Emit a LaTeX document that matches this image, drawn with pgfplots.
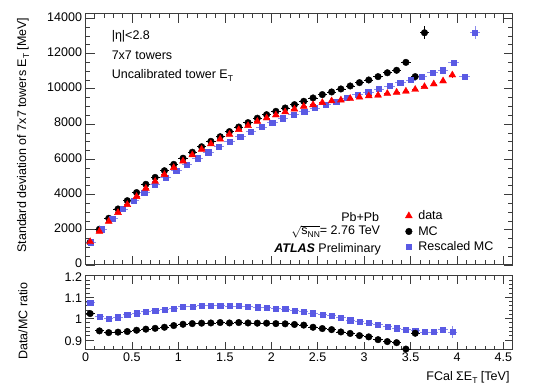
\documentclass[border=0pt]{standalone}
\usepackage{pgfplots}
\pgfplotsset{compat=1.18}
\usepackage{pgfplotstable}
\usepackage{fontspec}
\setmainfont{Liberation Sans}
\definecolor{rblue}{RGB}{90,90,228}
\definecolor{framegray}{RGB}{60,60,60}
\newcommand{\sub}[1]{\raisebox{-0.45ex}{\fontsize{8.5}{9}\selectfont #1}}

\pgfplotstableread{
x y ex ey
0.05 1290 0.05 40
0.15 2030 0.05 40
0.25 2650 0.05 40
0.35 3180 0.05 40
0.45 3650 0.05 40
0.55 4110 0.05 40
0.65 4580 0.05 40
0.75 4970 0.05 40
0.85 5350 0.05 40
0.95 5710 0.05 40
1.05 6060 0.05 40
1.15 6400 0.05 40
1.25 6710 0.05 40
1.35 7020 0.05 40
1.45 7280 0.05 40
1.55 7570 0.05 40
1.65 7830 0.05 40
1.75 8080 0.05 40
1.85 8330 0.05 40
1.95 8530 0.05 40
2.05 8720 0.05 40
2.15 8910 0.05 40
2.25 9100 0.05 40
2.35 9290 0.05 40
2.45 9480 0.05 40
2.55 9670 0.05 40
2.65 9820 0.05 40
2.75 9990 0.05 40
2.85 10160 0.05 40
2.95 10350 0.05 40
3.05 10500 0.05 40
3.15 10690 0.05 40
3.25 10910 0.05 50
3.35 11050 0.05 60
3.45 11500 0.05 80
3.55 10690 0.05 100
3.65 13180 0.05 380
}\mc

\pgfplotstableread{
x y ex ey
0.0575 1290 0.0575 40
0.1724 2030 0.0575 40
0.2873 2650 0.0575 40
0.4022 3180 0.0575 40
0.5171 3650 0.0575 40
0.6320 4110 0.0575 40
0.7469 4580 0.0575 40
0.8618 4970 0.0575 40
0.9767 5350 0.0575 40
1.0916 5710 0.0575 40
1.2065 6060 0.0575 40
1.3214 6400 0.0575 40
1.4363 6710 0.0575 40
1.5512 7020 0.0575 40
1.6661 7280 0.0575 40
1.7810 7570 0.0575 40
1.8959 7830 0.0575 40
2.0108 8080 0.0575 40
2.1257 8330 0.0575 40
2.2406 8530 0.0575 40
2.3555 8720 0.0575 40
2.4704 8910 0.0575 40
2.5853 9100 0.0575 40
2.7002 9290 0.0575 40
2.8151 9480 0.0575 40
2.9300 9670 0.0575 40
3.0449 9820 0.0575 40
3.1598 9990 0.0575 40
3.2747 10160 0.0575 40
3.3896 10350 0.0575 40
3.5045 10500 0.0575 40
3.6194 10690 0.0575 40
3.7343 10910 0.0575 50
3.8492 11050 0.0575 60
3.9641 11500 0.0575 80
4.0790 10690 0.0575 100
4.1939 13180 0.0575 380
}\rmc

\pgfplotstableread{
x y ex ey
0.05 1320 0.05 40
0.15 1912 0.05 40
0.25 2475 0.05 40
0.35 2976 0.05 40
0.45 3427 0.05 40
0.55 3884 0.05 40
0.65 4351 0.05 40
0.75 4741 0.05 40
0.85 5131 0.05 40
0.95 5522 0.05 40
1.05 5896 0.05 40
1.15 6246 0.05 40
1.25 6562 0.05 40
1.35 6873 0.05 40
1.45 7142 0.05 40
1.55 7411 0.05 40
1.65 7681 0.05 40
1.75 7910 0.05 40
1.85 8147 0.05 40
1.95 8342 0.05 40
2.05 8511 0.05 40
2.15 8687 0.05 40
2.25 8845 0.05 40
2.35 9002 0.05 40
2.45 9091 0.05 40
2.55 9216 0.05 40
2.65 9309 0.05 40
2.75 9361 0.05 40
2.85 9449 0.05 40
2.95 9522 0.05 40
3.05 9597 0.05 40
3.15 9632 0.05 40
3.25 9732 0.05 40
3.35 9801 0.05 40
3.45 9860 0.05 50
3.55 9960 0.05 50
3.65 10120 0.05 60
3.75 10270 0.05 70
3.85 10440 0.05 110
3.95 10780 0.05 280
}\data

\pgfplotstableread{
x y ex ey
0.05 1.023 0.05 0.003
0.15 0.942 0.05 0.003
0.25 0.934 0.05 0.003
0.35 0.936 0.05 0.003
0.45 0.939 0.05 0.003
0.55 0.945 0.05 0.003
0.65 0.950 0.05 0.003
0.75 0.954 0.05 0.003
0.85 0.959 0.05 0.003
0.95 0.967 0.05 0.003
1.05 0.973 0.05 0.003
1.15 0.976 0.05 0.003
1.25 0.978 0.05 0.003
1.35 0.979 0.05 0.003
1.45 0.981 0.05 0.003
1.55 0.979 0.05 0.003
1.65 0.981 0.05 0.003
1.75 0.979 0.05 0.003
1.85 0.978 0.05 0.003
1.95 0.978 0.05 0.003
2.05 0.976 0.05 0.003
2.15 0.975 0.05 0.003
2.25 0.972 0.05 0.003
2.35 0.969 0.05 0.003
2.45 0.959 0.05 0.003
2.55 0.953 0.05 0.003
2.65 0.948 0.05 0.003
2.75 0.937 0.05 0.003
2.85 0.930 0.05 0.003
2.95 0.920 0.05 0.003
3.05 0.914 0.05 0.003
3.15 0.901 0.05 0.003
3.25 0.892 0.05 0.003
3.35 0.887 0.05 0.003
3.45 0.857 0.05 0.004
3.55 0.931 0.05 0.006
}\rmcr

\pgfplotstableread{
x y ex ey
0.05 1.075 0.05 0.003
0.15 1.008 0.05 0.003
0.25 1.000 0.05 0.003
0.35 1.006 0.05 0.003
0.45 1.017 0.05 0.003
0.55 1.025 0.05 0.003
0.65 1.031 0.05 0.003
0.75 1.037 0.05 0.003
0.85 1.042 0.05 0.003
0.95 1.047 0.05 0.003
1.05 1.055 0.05 0.003
1.15 1.055 0.05 0.003
1.25 1.059 0.05 0.003
1.35 1.061 0.05 0.003
1.45 1.061 0.05 0.003
1.55 1.058 0.05 0.003
1.65 1.058 0.05 0.003
1.75 1.056 0.05 0.003
1.85 1.053 0.05 0.003
1.95 1.052 0.05 0.003
2.05 1.047 0.05 0.003
2.15 1.044 0.05 0.003
2.25 1.038 0.05 0.003
2.35 1.033 0.05 0.003
2.45 1.025 0.05 0.003
2.55 1.019 0.05 0.003
2.65 1.012 0.05 0.003
2.75 1.003 0.05 0.003
2.85 0.992 0.05 0.003
2.95 0.984 0.05 0.003
3.05 0.979 0.05 0.003
3.15 0.970 0.05 0.003
3.25 0.961 0.05 0.003
3.35 0.955 0.05 0.003
3.45 0.948 0.05 0.004
3.55 0.944 0.05 0.004
3.65 0.937 0.05 0.005
3.75 0.937 0.05 0.006
3.85 0.948 0.05 0.009
3.95 0.937 0.05 0.028
}\rrmcr

\begin{document}
\begin{tikzpicture}
\useasboundingbox (0pt,0pt) rectangle (540pt,388pt);
\pgfplotsset{
  every axis/.append style={
    font=\fontsize{12.5}{14}\selectfont,
    scale only axis,
    axis line style={framegray, line width=1pt},
    tick style={framegray, line width=0.6pt},
    tick align=inside,
    xtick pos=both, ytick pos=both,
    major tick length=9pt, minor tick length=4.5pt,
    /pgf/number format/assume math mode=true,
    /pgf/number format/1000 sep={},
    scaled ticks=false,
    clip=true,
  },
  ebx/.style={/pgfplots/error bars/.cd, x dir=both, x explicit, y dir=both, y explicit, error mark=none, error bar style={#1}, /pgfplots/.cd},
}
% top panel
\begin{axis}[
  at={(85.5pt,123pt)}, anchor=south west,
  width=427.2pt, height=251pt,
  xmin=0, xmax=4.6, ymin=0, ymax=14245,
  xtick={0,0.5,1,1.5,2,2.5,3,3.5,4,4.5}, minor x tick num=4,
  xticklabels={},
  ytick={0,2000,4000,6000,8000,10000,12000,14000}, minor y tick num=3,
  yticklabels={0,2000,4000,6000,8000,10000,12000,14000},
  yticklabel style={yshift=1.5pt},
  legend style={at={(axis cs:3.41,480)}, anchor=south west, draw=none, fill=none,
    font=\fontsize{12.5}{14}\selectfont, row sep=1.2pt, column sep=4pt},
  legend cell align=left,
]
\addlegendimage{only marks, mark=triangle*, mark size=4pt, red}
\addlegendentry{data}
\addlegendimage{only marks, mark=*, mark size=3.3pt, black}
\addlegendentry{MC}
\addlegendimage{only marks, mark=square*, mark size=2.6pt, rblue}
\addlegendentry{Rescaled MC}

\addplot[forget plot, only marks, mark=*, mark size=3.3pt, black,
  ebx={black, line width=0.9pt}]
  table[x=x, y=y, x error=ex, y error=ey]{\mc};
\addplot[forget plot, only marks, mark=square*, mark size=2.6pt, rblue,
  ebx={rblue!70, line width=0.9pt}]
  table[x=x, y=y, x error=ex, y error=ey]{\rmc};
\addplot[forget plot, only marks, mark=triangle*, mark size=4pt, red,
  ebx={red, line width=0.8pt, densely dashed}]
  table[x=x, y=y, x error=ex, y error=ey]{\data};

\node[anchor=west] at (axis cs:0.245,13000) {|η|<2.8};
\node[anchor=west] at (axis cs:0.245,11880) {7x7 towers};
\node[anchor=west] at (axis cs:0.245,10730) {Uncalibrated tower E\sub{T}};
\node[anchor=east] at (axis cs:3.20,2740) {Pb+Pb};
\node[anchor=east] at (axis cs:3.21,1860) {$\sqrt{\mbox{s\sub{NN}}}$= 2.76 TeV};
\node[anchor=east] at (axis cs:3.22,890) {\textbf{\textit{ATLAS}} Preliminary};
\end{axis}

% ratio panel
\begin{axis}[
  at={(85.5pt,38.5pt)}, anchor=south west,
  width=427.2pt, height=73.8pt,
  xmin=0, xmax=4.6, ymin=0.855, ymax=1.2,
  xtick={0,0.5,1,1.5,2,2.5,3,3.5,4,4.5}, minor x tick num=4,
  xticklabels={0,0.5,1,1.5,2,2.5,3,3.5,4,4.5},
  ytick={0.9,1,1.1,1.2}, minor y tick num=4,
  yticklabels={0.9,1,1.1,1.2},
  yticklabel style={yshift=-1pt},
  major tick length=8pt, minor tick length=4pt,
]
\addplot[only marks, mark=square*, mark size=2.6pt, rblue,
  ebx={rblue!70, line width=0.9pt}]
  table[x=x, y=y, x error=ex, y error=ey]{\rrmcr};
\addplot[only marks, mark=*, mark size=3.3pt, black,
  ebx={black, line width=0.9pt}]
  table[x=x, y=y, x error=ex, y error=ey]{\rmcr};
\end{axis}

\node[rotate=90, anchor=east, font=\fontsize{12.5}{14}\selectfont] at (23pt,374pt)
  {Standard deviation of 7x7 towers E\sub{T} [MeV]};
\node[rotate=90, anchor=east, font=\fontsize{12.5}{14}\selectfont] at (23pt,109pt)
  {Data/MC ratio};
\node[anchor=east, font=\fontsize{12.5}{14}\selectfont] at (513pt,11pt)
  {FCal ΣE\sub{T} [TeV]};
\end{tikzpicture}
\end{document}
